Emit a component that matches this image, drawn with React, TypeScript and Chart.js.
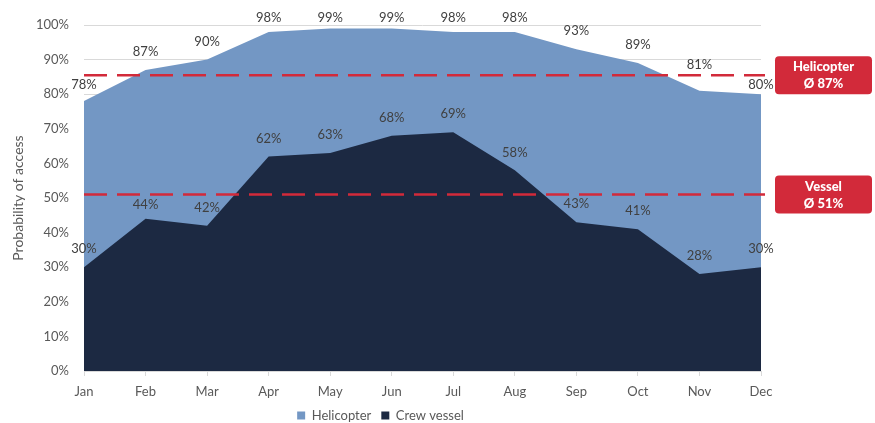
import React, { useEffect, useRef } from "react";
import { Chart, registerables } from "chart.js";

Chart.register(...registerables);

const months = ["Jan", "Feb", "Mar", "Apr", "May", "Jun", "Jul", "Aug", "Sep", "Oct", "Nov", "Dec"];
const helicopter = [78, 87, 90, 98, 99, 99, 98, 98, 93, 89, 81, 80];
const crewVessel = [30, 44, 42, 62, 63, 68, 69, 58, 43, 41, 28, 30];
const yTicks = [0, 10, 20, 30, 40, 50, 60, 70, 80, 90, 100];
const averageLines = [
  { name: "Helicopter", label: "Ø 87%", value: 85.5 },
  { name: "Vessel", label: "Ø 51%", value: 51 },
];

const FONT = "Lato, 'Open Sans', sans-serif";
const GREY = "#595959";
const RED = "#d22a3a";

const overlayPlugin = {
  id: "overlay",
  afterDatasetsDraw(chart: any) {
    const { ctx, chartArea, scales } = chart;
    const y = scales.y;
    const linePixels: number[] = [];
    averageLines.forEach((a) => {
      const py = y.getPixelForValue(a.value);
      linePixels.push(py);
      ctx.save();
      ctx.strokeStyle = RED;
      ctx.lineWidth = 2.5;
      ctx.setLineDash([23, 10]);
      ctx.beginPath();
      ctx.moveTo(chartArea.left, py);
      ctx.lineTo(chartArea.right + 4, py);
      ctx.stroke();
      ctx.setLineDash([]);
      const bx = chartArea.right + 14;
      const bw = 97;
      const bh = 38;
      const by = py - bh / 2;
      ctx.fillStyle = RED;
      ctx.beginPath();
      (ctx as any).roundRect(bx, by, bw, bh, 4);
      ctx.fill();
      ctx.fillStyle = "#ffffff";
      ctx.font = `900 13px ${FONT}`;
      ctx.textAlign = "center";
      ctx.textBaseline = "middle";
      ctx.fillText(a.name, bx + bw / 2, py - 8);
      ctx.fillText(a.label, bx + bw / 2, py + 9);
      ctx.restore();
    });
    ctx.save();
    ctx.font = `13px ${FONT}`;
    ctx.fillStyle = "#404040";
    ctx.textAlign = "center";
    ctx.textBaseline = "middle";
    chart.data.datasets.forEach((ds: any, i: number) => {
      const meta = chart.getDatasetMeta(i);
      meta.data.forEach((pt: any, j: number) => {
        let ly = Math.max(chartArea.top - 7, pt.y - 18);
        linePixels.forEach((py) => {
          if (Math.abs(ly - py) < 9) ly = ly <= py ? py - 10 : py + 10;
        });
        ctx.fillText(ds.data[j] + "%", pt.x, ly);
      });
    });
    ctx.restore();
  },
};

export default function App() {
  const ref = useRef<HTMLCanvasElement | null>(null);
  useEffect(() => {
    document.body.style.margin = "0";
    const chart = new Chart(ref.current as HTMLCanvasElement, {
      type: "line",
      data: {
        labels: months,
        datasets: [
          {
            label: "Helicopter",
            data: helicopter,
            backgroundColor: "#7397c4",
            borderColor: "#7397c4",
            borderWidth: 0,
            fill: "origin",
            pointRadius: 0,
            tension: 0,
            order: 2,
          },
          {
            label: "Crew vessel",
            data: crewVessel,
            backgroundColor: "#1c2942",
            borderColor: "#1c2942",
            borderWidth: 0,
            fill: "origin",
            pointRadius: 0,
            tension: 0,
            order: 1,
          },
        ],
      },
      options: {
        responsive: false,
        animation: false,
        layout: { padding: { top: 25, right: 114, left: 0, bottom: -9 } },
        plugins: {
          tooltip: { enabled: false },
          legend: {
            position: "bottom",
            labels: {
              boxWidth: 8,
              boxHeight: 8,
              padding: 10,
              color: GREY,
              font: { family: FONT, size: 13 },
              sort: (a: any, b: any) => a.datasetIndex - b.datasetIndex,
            },
          },
        },
        scales: {
          x: {
            offset: false,
            grid: { drawOnChartArea: false, drawTicks: true, tickLength: 5, color: "#d9d9d9" },
            border: { color: "#d9d9d9" },
            ticks: { color: GREY, font: { family: FONT, size: 13 }, padding: 8, maxRotation: 0 },
            afterFit(scale: any) {
              scale.height = 28;
            },
          },
          y: {
            min: 0,
            max: 100,
            grid: { color: "#d9d9d9", drawTicks: false },
            border: { display: false },
            afterBuildTicks(scale: any) {
              scale.ticks = yTicks.map((v) => ({ value: v }));
            },
            ticks: {
              color: GREY,
              padding: 15,
              font: { family: FONT, size: 13 },
              callback: (v: any) => v + "%",
            },
            title: {
              display: true,
              text: "Probability of access",
              color: GREY,
              font: { family: FONT, size: 14 },
              padding: { top: 10, bottom: 0 },
            },
            afterFit(scale: any) {
              scale.width = 84;
            },
          },
        },
      },
      plugins: [overlayPlugin],
    });
    return () => chart.destroy();
  }, []);
  return (
    <div style={{ width: 875, height: 423 }}>
      <canvas ref={ref} width={875} height={423} />
    </div>
  );
}
